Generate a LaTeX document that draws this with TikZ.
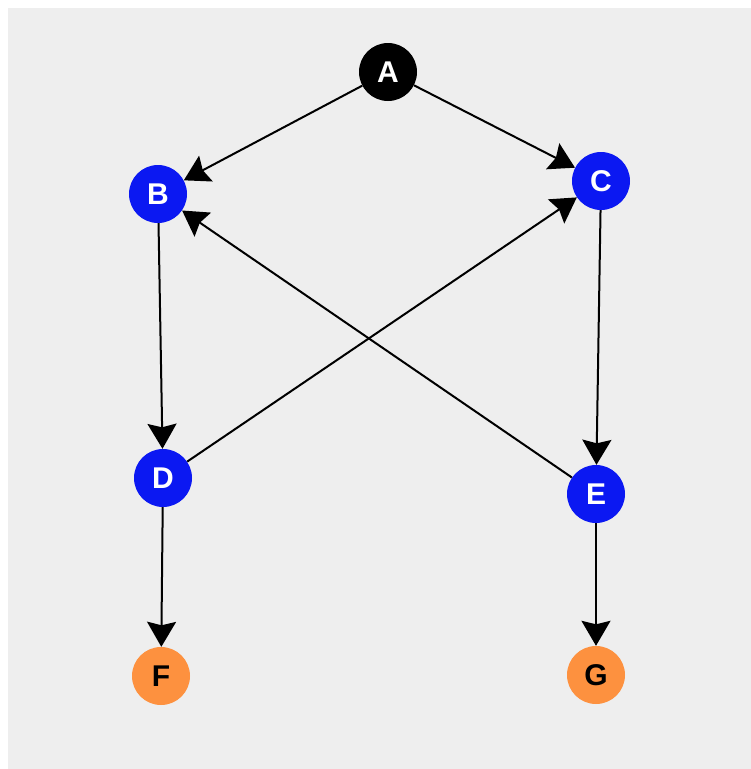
\documentclass[tikz,border=0pt]{standalone}
\usepackage{fontspec}
\setmainfont{Liberation Sans}
\usetikzlibrary{arrows.meta}
\definecolor{bgray}{HTML}{EEEEEE}
\definecolor{nblue}{HTML}{0B18F2}
\definecolor{norange}{HTML}{FD913F}
\begin{document}
\begin{tikzpicture}[x=1pt,y=-1pt,
  vertex/.style={circle,minimum size=58pt,inner sep=0pt,
    font=\fontsize{30}{33}\selectfont\bfseries},
  root/.style={vertex,fill=black,text=white},
  mid/.style={vertex,fill=nblue,text=white},
  leaf/.style={vertex,fill=norange,text=black},
  edge/.style={line width=2pt,draw=black,
    -{Stealth[length=25pt,width=29pt,inset=3.5pt]}}]
  \useasboundingbox (0,0) rectangle (751,769);
  \fill[bgray] (8,8) rectangle (751,769);
  \node[root] (A) at (388,72)  {A};
  \node[mid]  (B) at (158,194) {B};
  \node[mid]  (C) at (601,181) {C};
  \node[mid]  (D) at (163,478) {D};
  \node[mid]  (E) at (596,494) {E};
  \node[leaf] (F) at (161,676) {F};
  \node[leaf] (G) at (596,675) {G};
  \draw[edge] (A) -- (B);
  \draw[edge] (A) -- (C);
  \draw[edge] (B) -- (D);
  \draw[edge] (C) -- (E);
  \draw[edge] (D) -- (C);
  \draw[edge] (E) -- (B);
  \draw[edge] (D) -- (F);
  \draw[edge] (E) -- (G);
\end{tikzpicture}
\end{document}
